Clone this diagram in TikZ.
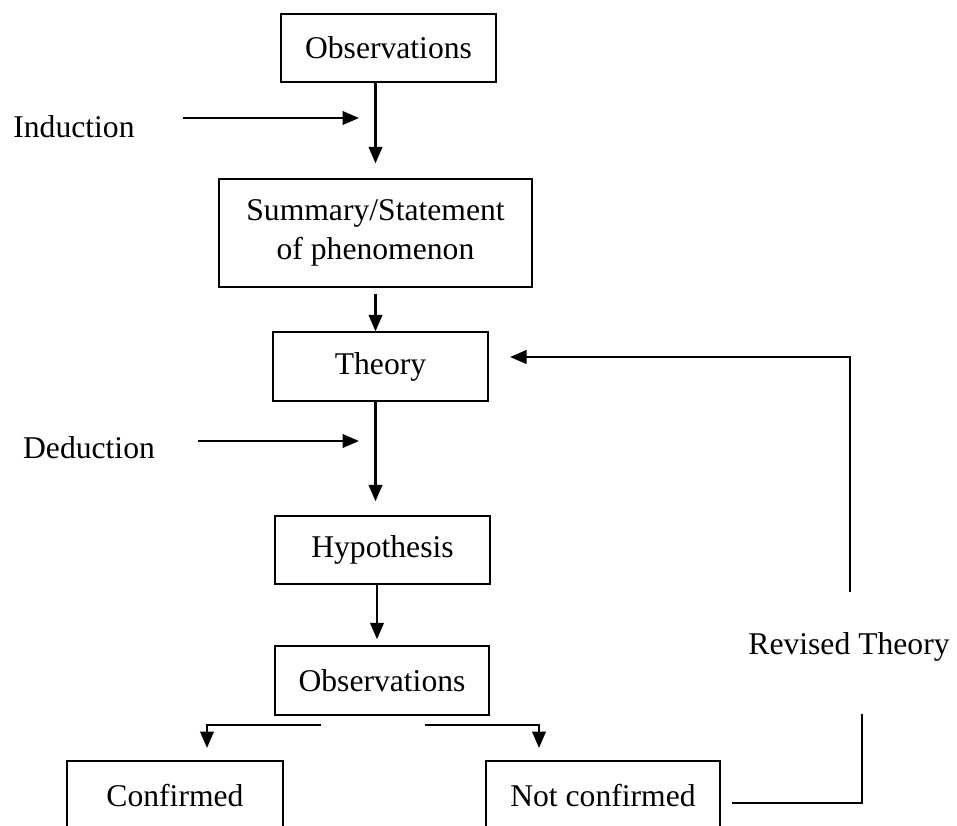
\documentclass[tikz,border=0pt]{standalone}
\usepackage{fontspec}
\setmainfont{Liberation Serif}
\usetikzlibrary{positioning,arrows.meta,calc}

\begin{document}
\begin{tikzpicture}[
  font=\fontsize{18}{22}\selectfont,
  box/.style={draw,line width=0.8pt,align=center,minimum height=13.6mm,inner sep=0pt},
  lbl/.style={align=center,inner sep=0pt},
  fl/.style={-{Triangle[length=3.3mm,width=2.7mm]},line width=1.4pt},
  ln/.style={line width=1.4pt},
]
\clip (0,0) rectangle (19.14,-16.5);
\node[box,minimum width=43mm] (obsA) at (7.77,-0.96) {Observations};
\node[box,minimum width=62.6mm,minimum height=21.6mm] (sum) at (7.51,-4.66) {Summary/Statement\\of phenomenon};
\node[box,minimum width=43mm,minimum height=13.8mm] (thy) at (7.61,-7.33) {Theory};
\node[box,minimum width=43mm] (hyp) at (7.65,-11.0) {Hypothesis};
\node[box,minimum width=42.8mm,minimum height=13.8mm] (obsB) at (7.64,-13.61) {Observations};
\node[box,minimum width=43.2mm] (conf) at (3.5,-15.9) {Confirmed};
\node[box,minimum width=46.8mm] (nconf) at (12.06,-15.9) {Not confirmed};
% side labels
\node[lbl] (ind) at (1.48,-2.54) {Induction};
\node[lbl] (ded) at (1.78,-8.96) {Deduction};
\node[lbl] (rev) at (16.98,-12.94) {Revised Theory};
% free ends
\coordinate (indS) at (3.66,-2.36);
\coordinate (indE) at (7.18,-2.36);
\coordinate (dedS) at (3.96,-8.82);
\coordinate (dedE) at (7.18,-8.82);
\coordinate (revA) at (17.0,-11.84);
\coordinate (revB) at (10.2,-7.14);
\coordinate (revC) at (17.24,-14.28);
\coordinate (revD) at (14.64,-16.06);
\coordinate (brL) at (6.42,-14.5);
\coordinate (brR) at (8.5,-14.5);
\coordinate (tipL) at (4.14,-14.96);
\coordinate (tipR) at (10.78,-14.96);
% main flow
\draw[fl] (sum.north |- obsA.south) -- ([yshift=3mm]sum.north);
\draw[fl] ([yshift=-1.2mm]sum.south) -- (sum.south |- thy.north);
\draw[fl] (sum.south |- thy.south) -- ([yshift=2.8mm]sum.south |- hyp.north);
\draw[fl] ([xshift=-1mm]obsB.north |- hyp.south) -- ([xshift=-1mm,yshift=1.2mm]obsB.north);
\draw[fl] (brL) -| (tipL);
\draw[fl] (brR) -| (tipR);
% induction / deduction
\draw[fl] (indS) -- (indE);
\draw[fl] (dedS) -- (dedE);
% revised theory loop
\draw[fl] (revA) |- (revB);
\draw[ln] (revD) -| (revC);
\end{tikzpicture}
\end{document}
